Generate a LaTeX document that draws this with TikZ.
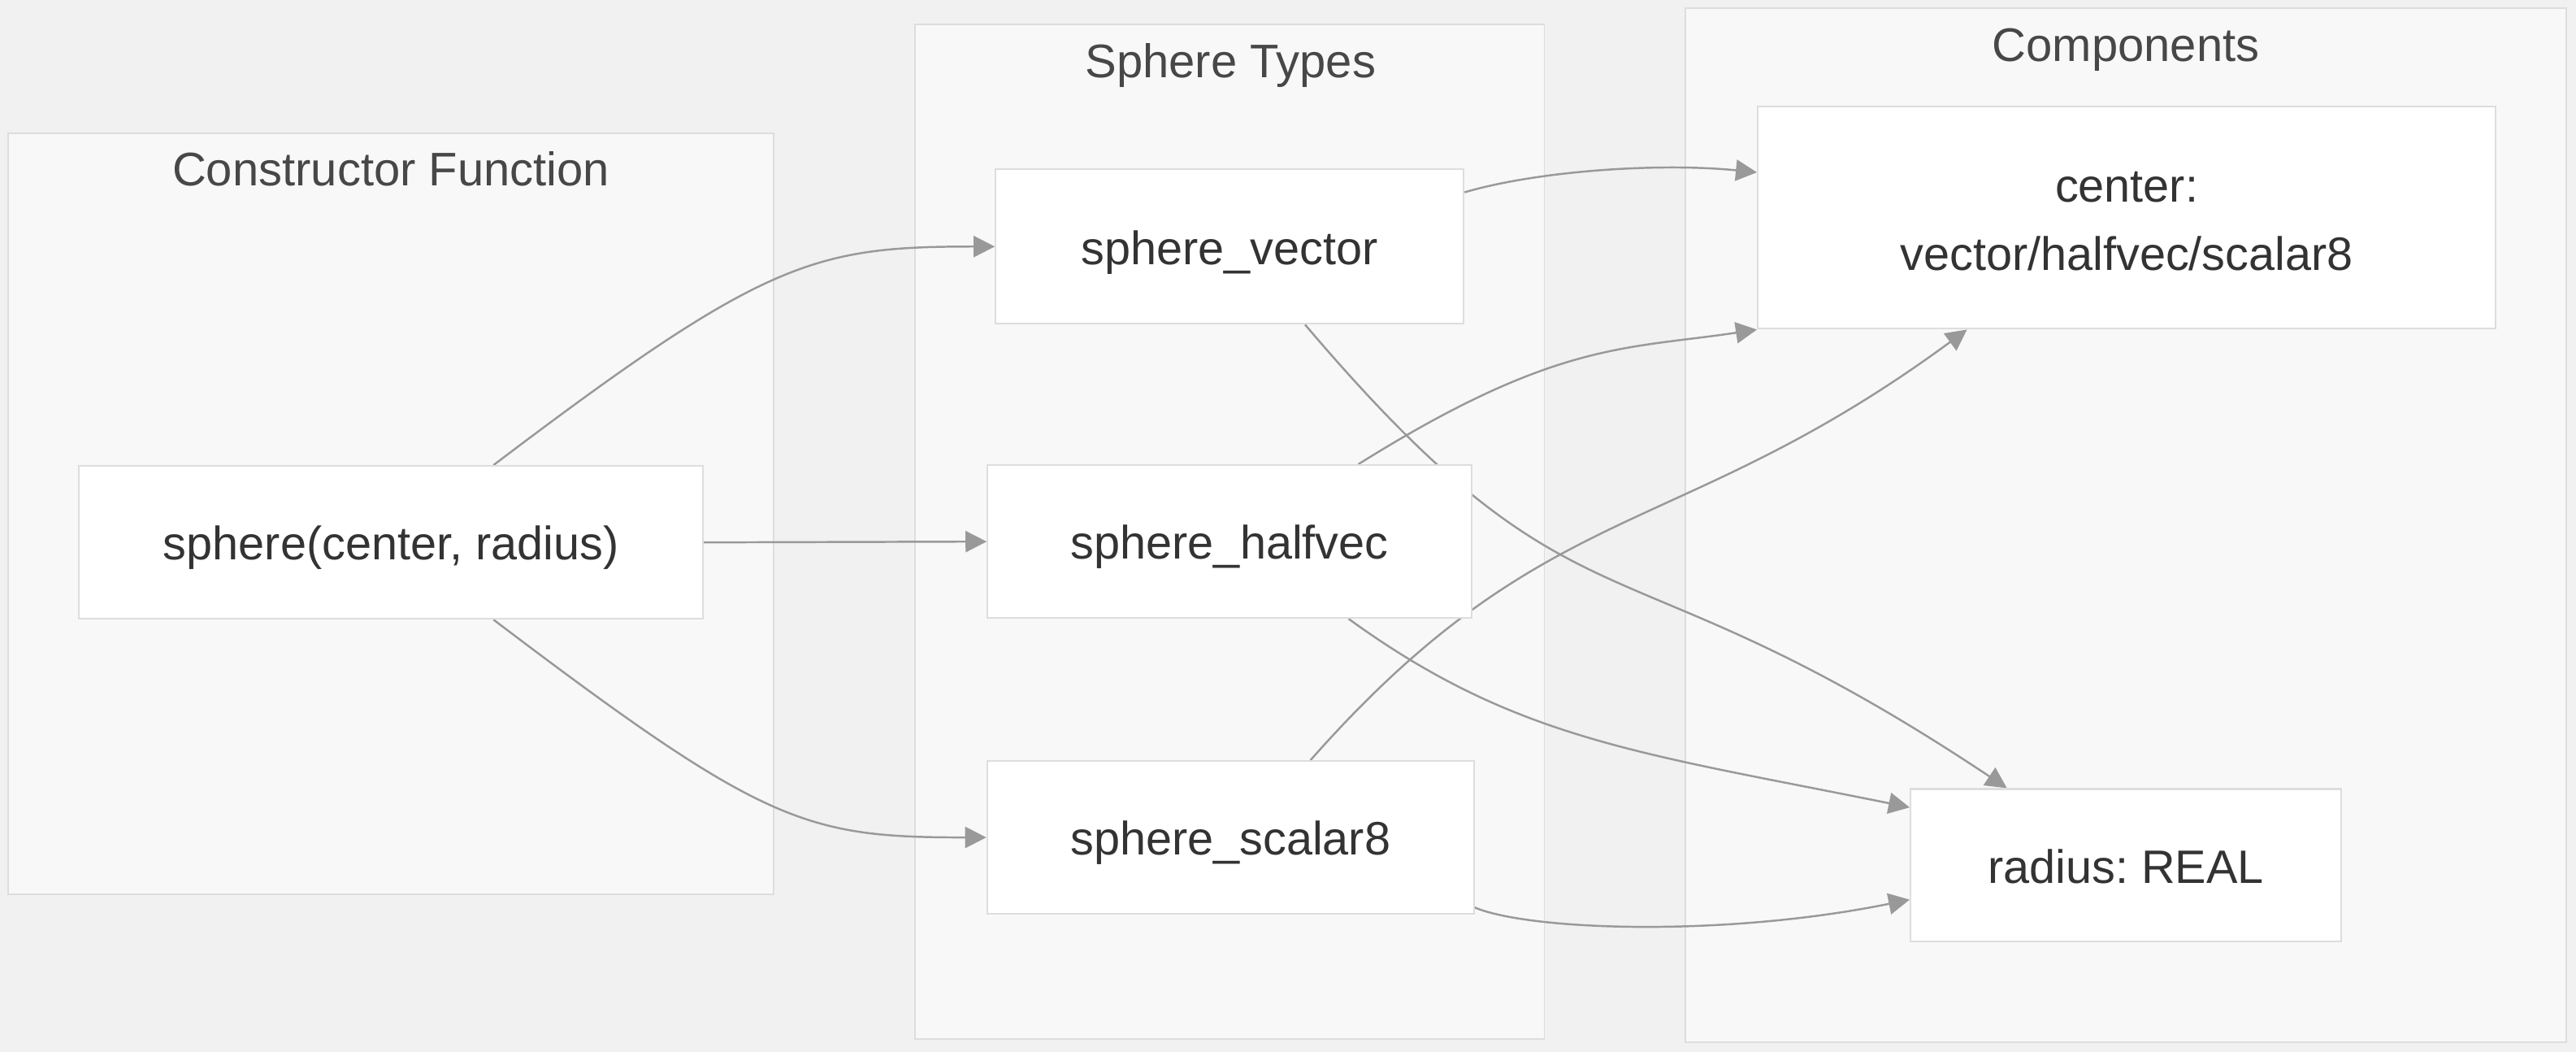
\documentclass[tikz,border=0pt]{standalone}
\usepackage{fontspec}
\setmainfont{Liberation Sans}
\usetikzlibrary{arrows.meta}

\definecolor{bgcol}{HTML}{F1F1F1}
\definecolor{clfill}{HTML}{F8F8F8}
\definecolor{clline}{HTML}{DDDDDD}
\definecolor{linkcol}{HTML}{999999}
\definecolor{txtcol}{HTML}{333333}

\pgfdeclarelayer{back}
\pgfdeclarelayer{wires}
\pgfsetlayers{back,wires,main}
\frenchspacing

\begin{document}
\begin{tikzpicture}[x=0.2022mm,y=-0.2022mm,
  cluster/.style={draw=clline,fill=clfill,line width=0.5pt},
  title/.style={text=txtcol!90!white,font=\fontsize{16.5}{20}\selectfont,
    text height=11.8pt,text depth=0pt},
  box/.style={draw=clline,fill=white,line width=0.6pt,text=txtcol,
    minimum height=18.8mm,inner sep=0pt,font=\fontsize{16.4}{24}\selectfont,
    text height=12.4pt,text depth=0pt},
  link/.style={draw=linkcol,line width=0.7pt,-{Triangle[length=2.6mm,width=2.6mm]}}]

% page and groups
\begin{pgfonlayer}{back}
\fill[bgcol] (0,0) rectangle (1568,640);
\draw[cluster] (5,81) rectangle (471,544);
\draw[cluster] (557,15) rectangle (940,632);
\draw[cluster] (1026,5) rectangle (1562,634);
\end{pgfonlayer}
\node[title] (ctortitle) at (238,103) {Constructor Function};
\node[title] (typestitle) at (749,37) {Sphere Types};
\node[title] (comptitle) at (1294,27) {Components};

% boxes
\node[box,minimum width=76.8mm] (ctor) at (238,330) {sphere(center, radius)};
\node[box,minimum width=57.6mm,minimum height=19mm] (vector) at (748.5,150) {sphere\_vector};
\node[box,minimum width=59.6mm] (halfvec) at (748.5,329.5) {sphere\_halfvec};
\node[box,minimum width=59.9mm] (scalar) at (749,509.5) {sphere\_scalar8};
\node[box,minimum width=90.8mm,minimum height=27.3mm,align=center,
  text height=38pt,text depth=1pt] (center) at (1294.5,132.5) {center:\\vector/halfvec/scalar8};
\node[box,minimum width=53mm] (radius) at (1294,526.5) {radius: REAL};

% links
\begin{pgfonlayer}{wires}
\draw[link] (ctor.37.6) .. controls +(165,-125) and +(-110,0) .. (vector.west);
\draw[link] (ctor.east) -- (halfvec.west);
\draw[link] (ctor.-37.6) .. controls +(165,125) and +(-110,0) .. (scalar.west);
\draw[link] (vector.13.4) .. controls +(44,-13) and +(-60,-6) .. (center.173.8);
\draw[link] (vector.-46.6) .. controls +(170,200) and +(-240,-160) .. (radius.147.5);
\draw[link] (halfvec.31) .. controls +(120,-75) and +(-80,12) .. (center.south west);
\draw[link] (halfvec.-33.8) .. controls +(102,74) and +(-163,-33) .. (radius.165.65);
\draw[link] (scalar.44.7) .. controls +(144,-163) and +(-177,130) .. (center.-145.3);
\draw[link] (scalar.-16.7) .. controls +(33,14) and +(-113,23) .. (radius.-171.1);
\end{pgfonlayer}
\end{tikzpicture}
\end{document}
